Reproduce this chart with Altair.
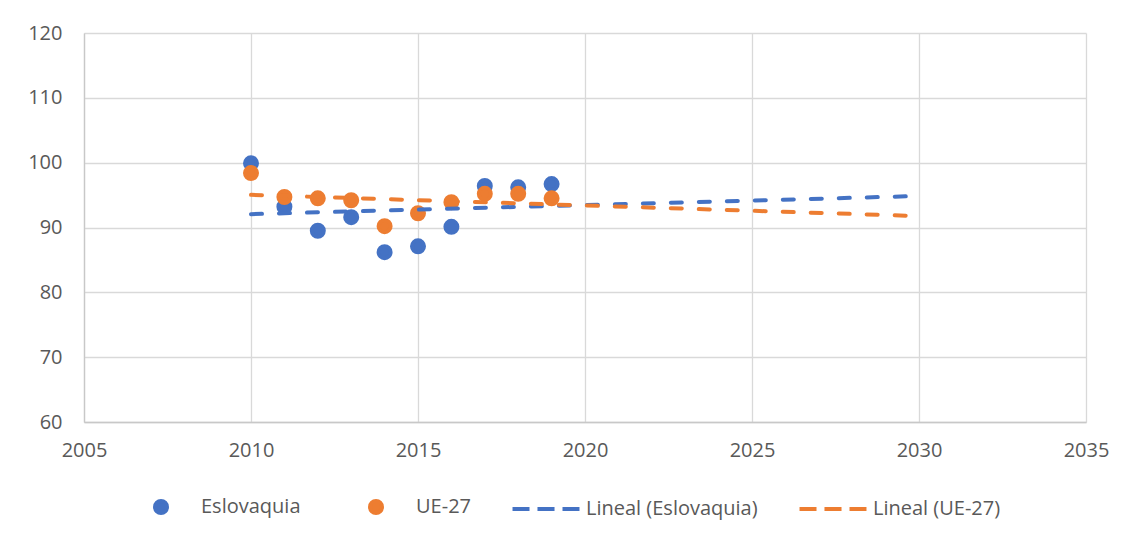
import altair as alt
import pandas as pd

anios = [2010, 2011, 2012, 2013, 2014, 2015, 2016, 2017, 2018, 2019]
eslovaquia = [99.9, 93.2, 89.5, 91.6, 86.2, 87.1, 90.1, 96.4, 96.2, 96.7]
ue27 = [98.4, 94.7, 94.5, 94.2, 90.2, 92.2, 93.9, 95.2, 95.2, 94.5]

series = ["Eslovaquia", "UE-27"]
leyenda = ["Eslovaquia", "UE-27", "Lineal (Eslovaquia)", "Lineal (UE-27)"]
colores = ["#4472C4", "#ED7D31"]
x_ticks = [2005, 2010, 2015, 2020, 2025, 2030, 2035]
y_ticks = [60, 70, 80, 90, 100, 110, 120]

rows = []
for a, v in zip(anios, eslovaquia):
    rows.append({"anio": a, "valor": v, "serie": "Eslovaquia"})
for a, v in zip(anios, ue27):
    rows.append({"anio": a, "valor": v, "serie": "UE-27"})
df = pd.DataFrame(rows)

FONT = "Open Sans"
TXT = "#595959"

# symbol shapes (unit = 12 px); invisible zero-length ends give every legend entry the same width
circle_path = "M-2.79,0L-2.79,0M2.79,0L2.79,0M-0.5,0A0.5,0.5,0,1,0,0.5,0A0.5,0.5,0,1,0,-0.5,0Z"
dash_path = "M-2.79,0H-1.375M-0.71,0H0.71M1.375,0H2.79"

x_enc = alt.X("anio:Q", scale=alt.Scale(domain=[2005, 2035], nice=False),
              axis=alt.Axis(values=x_ticks, format="d", title=None, labelFlush=False))
y_enc = alt.Y("valor:Q", scale=alt.Scale(domain=[60, 120], nice=False, zero=False),
              axis=alt.Axis(values=y_ticks, title=None))

legend = alt.Legend(
    title=None, orient="none", legendX=63, legendY=460, direction="horizontal",
    labelFont=FONT, labelFontSize=20, labelColor=TXT, labelOffset=26, labelLimit=0,
    symbolSize=576, symbolStrokeWidth=4, symbolOpacity=1, columnPadding=33,
    padding=0,
)

fill_scale = alt.Scale(domain=leyenda, range=colores + colores)
shape_scale = alt.Scale(domain=leyenda, range=[circle_path, circle_path, dash_path, dash_path])

points = alt.Chart(df).mark_point(filled=True, size=576, opacity=1, strokeWidth=4).encode(
    x=x_enc,
    y=y_enc,
    fill=alt.Fill("serie:N", scale=fill_scale, legend=legend),
    stroke=alt.Stroke("serie:N", scale=fill_scale, legend=legend),
    shape=alt.Shape("serie:N", scale=shape_scale, legend=legend),
)

lines = alt.Chart(df).transform_regression(
    "anio", "valor", groupby=["serie"], extent=[2010, 2030]
).mark_line(strokeDash=[11, 17], strokeCap="round", strokeWidth=4).encode(
    x="anio:Q",
    y="valor:Q",
    color=alt.Color("serie:N", scale=alt.Scale(domain=series, range=colores), legend=None),
)

chart = alt.layer(points, lines).properties(
    width=1002, height=389,
    autosize=alt.AutoSizeParams(type="none"),
    padding={"left": 76, "top": 25, "right": 30, "bottom": 105},
    background="white",
).configure_view(stroke=None).configure_axis(
    grid=True, gridColor="#D9D9D9", gridWidth=1.3,
    domainColor="#C8C8C8", domainWidth=1.3, ticks=False,
    labelFont=FONT, labelFontSize=20, labelColor=TXT,
).configure_axisY(labelPadding=22).configure_axisX(labelPadding=18)

chart.save("out.html", embed_options={"renderer": "svg", "actions": False})
